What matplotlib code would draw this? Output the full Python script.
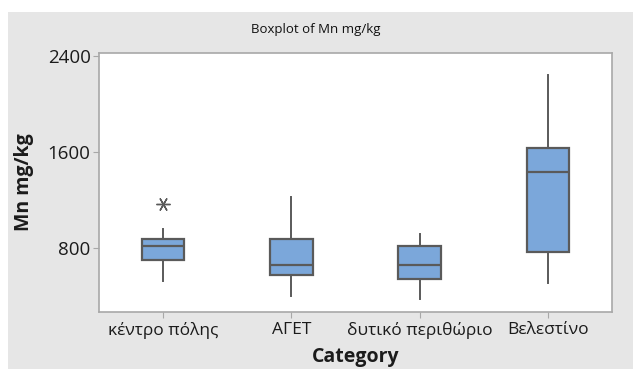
import matplotlib
matplotlib.use("Agg")
import matplotlib.pyplot as plt
from matplotlib.patches import Rectangle

categories = ["κέντρο πόλης", "ΑΓΕΤ", "δυτικό περιθώριο", "Βελεστίνο"]
whisker_low = [528, 402, 381, 514]
q1 = [703, 581, 542, 769]
median = [822, 664, 664, 1436]
q3 = [875, 877, 822, 1636]
whisker_high = [958, 1229, 919, 2240]
outliers = [[1168], [], [], []]
y_ticks = [800, 1600, 2400]

plt.rcParams["font.family"] = ["Open Sans", "DejaVu Sans"]

fig = plt.figure(figsize=(6.33, 3.69), dpi=100, facecolor="white")
# gray panel behind the chart
fig.patches.append(Rectangle((8 / 633, 0), 1, (369 - 12) / 369,
                             transform=fig.transFigure, facecolor="#e6e6e6",
                             edgecolor="none", zorder=-1))

ax = fig.add_axes([99 / 633, 1 - 312 / 369, (612 - 99) / 633, (312 - 53) / 369])
ax.set_facecolor("white")

stats = []
for i, name in enumerate(categories):
    stats.append(dict(label=name, whislo=whisker_low[i], q1=q1[i], med=median[i],
                      q3=q3[i], whishi=whisker_high[i], fliers=outliers[i]))

edge = "#5a5a5a"
ax.bxp(stats, positions=range(1, len(categories) + 1), widths=0.33,
       patch_artist=True, showcaps=False,
       boxprops=dict(facecolor="#7ba7da", edgecolor=edge, linewidth=1.6),
       medianprops=dict(color=edge, linewidth=1.6),
       whiskerprops=dict(color=edge, linewidth=1.4),
       flierprops=dict(marker=(6, 2, 90), markersize=10, markeredgecolor=edge,
                       markeredgewidth=1.0, linestyle="none"))

ax.set_xlim(0.5, 4.5)
ax.set_ylim(270, 2422)
ax.set_yticks(y_ticks)
ax.set_yticklabels([str(v) for v in y_ticks])

for s in ax.spines.values():
    s.set_color("#a8a8a8")
    s.set_linewidth(1.2)

ax.tick_params(axis="both", colors="#a8a8a8", length=4, width=0.8,
               labelcolor="#1b1b1b")
ax.tick_params(axis="y", pad=2, labelsize=13.5)
ax.tick_params(axis="x", pad=3, labelsize=12.5)

ax.set_ylabel("Mn mg/kg", fontsize=14, fontweight="bold", color="#1b1b1b", labelpad=10)
ax.set_xlabel("Category", fontsize=14, fontweight="bold", color="#1b1b1b", labelpad=6)

fig.text(316 / 633, 1 - 30 / 369, "Boxplot of Mn mg/kg", ha="center", va="center",
         fontsize=9.5, fontweight="medium", color="#111111")

fig.savefig("out.png", dpi=100, facecolor=fig.get_facecolor())
